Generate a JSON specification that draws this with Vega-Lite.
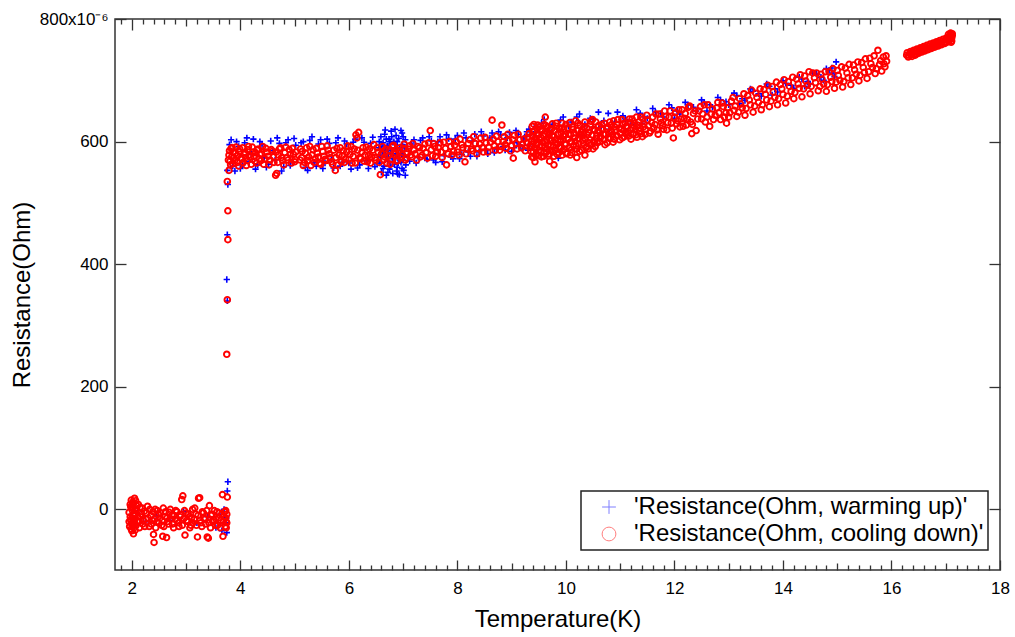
{
"$schema":"https://vega.github.io/schema/vega-lite/v6.json",
"width":885,"height":551,
"autosize":{"type":"none"},
"padding":{"left":115,"top":19,"right":15,"bottom":67},
"datasets":{
"warm":[
{"t":2.02,"r":-14},{"t":2.1,"r":-6},{"t":2.25,"r":-20},{"t":2.45,"r":-10},{"t":2.7,"r":-18},{"t":2.95,"r":-4},{"t":3.2,"r":-22},{"t":3.4,"r":-12},{"t":3.55,"r":-30},{"t":3.62,"r":-8},{"t":3.66,"r":-35},{"t":3.7,"r":0},{"t":3.72,"r":-22},{"t":3.74,"r":-14},{"t":3.75,"r":-38},
{"t":3.76,"r":30},{"t":3.77,"r":45},{"t":3.76,"r":340},{"t":3.75,"r":375},{"t":3.76,"r":448},{"t":3.77,"r":530},{"t":3.76,"r":553},
{"t":3.8,"r":595},{"t":3.86,"r":560},{"t":3.93,"r":600},{"t":4.0,"r":556},{"t":4.08,"r":598},{"t":4.16,"r":567},{"t":4.24,"r":604},{"t":4.32,"r":562},{"t":4.4,"r":595},{"t":4.48,"r":558},{"t":4.56,"r":601},{"t":4.64,"r":570},{"t":4.72,"r":597},{"t":4.8,"r":559},{"t":4.88,"r":603},{"t":4.96,"r":566},{"t":5.02,"r":594},{"t":4.2,"r":580},{"t":4.6,"r":585},{"t":4.44,"r":574},
{"t":3.83,"r":603},{"t":3.9,"r":552},{"t":3.97,"r":592},{"t":4.04,"r":562},{"t":4.12,"r":606},{"t":4.28,"r":555},{"t":4.36,"r":600},{"t":4.52,"r":563},{"t":4.68,"r":606},{"t":4.76,"r":552},{"t":4.84,"r":598},{"t":4.92,"r":561},{"t":4.99,"r":605},
{"t":5.12,"r":598},{"t":5.2,"r":558},{"t":5.28,"r":602},{"t":5.36,"r":566},{"t":5.44,"r":596},{"t":5.52,"r":556},{"t":5.6,"r":604},{"t":5.68,"r":571},{"t":5.76,"r":598},{"t":5.84,"r":560},{"t":5.92,"r":601},{"t":6.0,"r":565},{"t":6.08,"r":599},{"t":6.16,"r":557},{"t":6.24,"r":606},{"t":6.32,"r":569},{"t":6.4,"r":597},{"t":6.48,"r":559},
{"t":5.16,"r":600},{"t":5.24,"r":553},{"t":5.32,"r":608},{"t":5.4,"r":560},{"t":5.48,"r":603},{"t":5.56,"r":565},{"t":5.64,"r":597},{"t":5.72,"r":557},{"t":5.8,"r":606},{"t":5.88,"r":566},{"t":5.96,"r":596},{"t":6.04,"r":555},{"t":6.12,"r":604},{"t":6.2,"r":562},{"t":6.28,"r":599},{"t":6.36,"r":556},{"t":6.44,"r":607},{"t":6.52,"r":565},
{"t":6.55,"r":590},{"t":6.57,"r":565},{"t":6.59,"r":608},{"t":6.6,"r":550},{"t":6.62,"r":582},{"t":6.63,"r":598},{"t":6.65,"r":560},{"t":6.66,"r":612},{"t":6.68,"r":575},{"t":6.69,"r":545},{"t":6.71,"r":593},{"t":6.72,"r":568},{"t":6.74,"r":604},{"t":6.75,"r":555},{"t":6.77,"r":586},{"t":6.78,"r":617},{"t":6.8,"r":572},{"t":6.81,"r":548},{"t":6.83,"r":600},{"t":6.84,"r":563},{"t":6.86,"r":590},{"t":6.87,"r":610},{"t":6.89,"r":558},{"t":6.9,"r":578},{"t":6.92,"r":605},{"t":6.93,"r":546},{"t":6.95,"r":585},{"t":6.96,"r":566},{"t":6.98,"r":614},{"t":6.99,"r":595},{"t":7.01,"r":553},{"t":7.02,"r":575},{"t":7.04,"r":603},{"t":7.05,"r":562},{"t":7.06,"r":588},{"t":6.7,"r":590},{"t":6.82,"r":580},{"t":6.94,"r":570},{"t":6.64,"r":578},{"t":6.76,"r":600},{"t":6.88,"r":552},{"t":7.0,"r":608},
{"t":6.56,"r":600},{"t":6.58,"r":575},{"t":6.61,"r":592},{"t":6.63,"r":556},{"t":6.67,"r":586},{"t":6.69,"r":604},{"t":6.73,"r":580},{"t":6.75,"r":596},{"t":6.77,"r":560},{"t":6.79,"r":608},{"t":6.8,"r":585},{"t":6.85,"r":595},{"t":6.86,"r":574},{"t":6.89,"r":600},{"t":6.91,"r":565},{"t":6.93,"r":590},{"t":6.97,"r":580},{"t":6.98,"r":556},{"t":7.0,"r":570},{"t":7.03,"r":590},{"t":7.04,"r":545},{"t":6.67,"r":619},{"t":6.85,"r":620},{"t":6.96,"r":618},{"t":6.72,"r":550},{"t":6.9,"r":547},
{"t":7.12,"r":568},{"t":7.2,"r":603},{"t":7.28,"r":574},{"t":7.36,"r":606},{"t":7.44,"r":571},{"t":7.52,"r":601},{"t":7.6,"r":566},{"t":7.68,"r":608},{"t":7.76,"r":577},{"t":7.84,"r":605},{"t":7.92,"r":572},{"t":8.0,"r":610},{"t":8.08,"r":579},{"t":8.16,"r":606},{"t":8.24,"r":576},{"t":8.32,"r":612},{"t":8.4,"r":583},{"t":8.48,"r":609},{"t":8.56,"r":580},{"t":8.64,"r":614},{"t":8.72,"r":588},{"t":8.8,"r":611},{"t":8.88,"r":586},{"t":8.96,"r":615},{"t":9.04,"r":590},{"t":9.12,"r":612},{"t":9.2,"r":588},{"t":9.28,"r":616},{"t":9.33,"r":595},{"t":9.1,"r":598},{"t":9.22,"r":605},{"t":9.3,"r":586},
{"t":7.16,"r":596},{"t":7.24,"r":565},{"t":7.32,"r":602},{"t":7.4,"r":573},{"t":7.48,"r":608},{"t":7.56,"r":570},{"t":7.64,"r":600},{"t":7.72,"r":567},{"t":7.8,"r":611},{"t":7.88,"r":575},{"t":7.96,"r":604},{"t":8.04,"r":572},{"t":8.12,"r":614},{"t":8.2,"r":583},{"t":8.28,"r":601},{"t":8.36,"r":576},{"t":8.44,"r":616},{"t":8.52,"r":586},{"t":8.6,"r":606},{"t":8.68,"r":582},{"t":8.76,"r":616},{"t":8.84,"r":592},{"t":8.92,"r":606},{"t":9.0,"r":584},{"t":9.08,"r":618},{"t":9.16,"r":594},{"t":9.24,"r":608},{"t":9.32,"r":620},
{"t":9.4,"r":612},{"t":9.55,"r":630},{"t":9.7,"r":618},{"t":9.86,"r":573},{"t":9.9,"r":635},{"t":10.05,"r":625},{"t":10.2,"r":640},{"t":10.35,"r":628},{"t":10.5,"r":636},{"t":10.65,"r":625},{"t":10.78,"r":646},{"t":10.9,"r":632},{"t":11.05,"r":642},{"t":11.2,"r":628},{"t":11.37,"r":646},{"t":11.5,"r":638},{"t":11.65,"r":648},{"t":11.8,"r":640},{"t":11.95,"r":655},{"t":12.1,"r":645},{"t":12.25,"r":660},{"t":12.4,"r":650},{"t":12.55,"r":664},{"t":12.7,"r":656},{"t":12.85,"r":668},{"t":13.0,"r":660},{"t":13.15,"r":675},{"t":13.3,"r":667},{"t":13.45,"r":682},{"t":13.6,"r":674},{"t":13.75,"r":690},{"t":13.9,"r":681},{"t":14.05,"r":695},{"t":14.2,"r":687},{"t":14.35,"r":702},{"t":14.5,"r":694},{"t":14.62,"r":710},{"t":14.75,"r":700},{"t":14.85,"r":716},{"t":14.95,"r":706},{"t":14.98,"r":730},{"t":14.9,"r":720},{"t":14.4,"r":690},{"t":13.8,"r":676},{"t":13.2,"r":662},{"t":12.6,"r":650},{"t":12.0,"r":638},{"t":11.4,"r":630},{"t":10.8,"r":620},{"t":10.3,"r":612},
{"t":9.45,"r":625},{"t":9.6,"r":636},{"t":9.75,"r":628},{"t":9.95,"r":640},{"t":10.1,"r":632},{"t":10.25,"r":645},{"t":10.45,"r":638},{"t":10.6,"r":648},{"t":10.7,"r":634},{"t":10.95,"r":648},{"t":11.1,"r":636},{"t":11.3,"r":652},{"t":11.45,"r":640},{"t":11.6,"r":654},{"t":11.75,"r":646},{"t":11.9,"r":660},{"t":12.05,"r":650},{"t":12.2,"r":664},{"t":12.35,"r":656},{"t":12.5,"r":668},{"t":12.65,"r":660},{"t":12.8,"r":672},{"t":12.95,"r":665},{"t":13.1,"r":679},{"t":13.25,"r":670},{"t":13.4,"r":686},{"t":13.55,"r":678},{"t":13.7,"r":694},{"t":13.85,"r":686},{"t":14.0,"r":699},{"t":14.15,"r":692},{"t":14.3,"r":705},{"t":14.45,"r":698},{"t":14.55,"r":712},{"t":14.7,"r":705},{"t":14.8,"r":719},{"t":14.92,"r":712}
],
"cool":[
{"t":1.95,"r":-5},{"t":1.96,"r":-28},{"t":1.97,"r":8},{"t":1.98,"r":-18},{"t":1.99,"r":15},{"t":2.0,"r":-35},{"t":2.0,"r":2},{"t":2.01,"r":-22},{"t":2.02,"r":12},{"t":2.03,"r":-10},{"t":2.04,"r":-30},{"t":2.05,"r":18},{"t":2.06,"r":-15},{"t":2.07,"r":-2},{"t":2.08,"r":-26},{"t":2.09,"r":6},{"t":2.11,"r":-12},{"t":2.13,"r":-20},{"t":2.15,"r":3},{"t":2.18,"r":-8},{"t":2.2,"r":-24},{"t":2.23,"r":-3},{"t":2.26,"r":-16},{"t":2.29,"r":5},{"t":2.32,"r":-28},{"t":2.35,"r":-10},{"t":2.38,"r":-18},{"t":2.4,"r":-41},{"t":2.41,"r":-54},{"t":2.43,"r":0},{"t":2.46,"r":-20},{"t":2.49,"r":-8},{"t":2.52,"r":-14},{"t":2.55,"r":-26},{"t":2.57,"r":-44},{"t":2.58,"r":2},{"t":2.61,"r":-12},{"t":2.64,"r":-46},{"t":2.66,"r":-20},{"t":2.69,"r":-5},{"t":2.72,"r":-16},{"t":2.75,"r":-24},{"t":2.78,"r":-10},{"t":2.81,"r":-2},{"t":2.84,"r":-18},{"t":2.87,"r":-28},{"t":2.9,"r":-9},{"t":2.92,"r":16},{"t":2.94,"r":22},{"t":2.96,"r":-15},{"t":2.98,"r":-42},{"t":3.0,"r":-6},{"t":3.03,"r":-20},{"t":3.06,"r":-12},{"t":3.09,"r":-26},{"t":3.12,"r":0},{"t":3.15,"r":-16},{"t":3.18,"r":-8},{"t":3.21,"r":-45},{"t":3.23,"r":18},{"t":3.25,"r":19},{"t":3.27,"r":-22},{"t":3.3,"r":-4},{"t":3.33,"r":-14},{"t":3.36,"r":-24},{"t":3.39,"r":-45},{"t":3.41,"r":-47},{"t":3.43,"r":6},{"t":3.46,"r":-10},{"t":3.49,"r":-20},{"t":3.52,"r":-2},{"t":3.55,"r":-16},{"t":3.58,"r":-26},{"t":3.61,"r":-6},{"t":3.64,"r":-18},{"t":3.67,"r":24},{"t":3.68,"r":-44},{"t":3.7,"r":-12},{"t":3.72,"r":-28},{"t":3.73,"r":-2},{"t":3.74,"r":-20},{"t":3.75,"r":-8},
{"t":1.95,"r":-20},{"t":1.97,"r":-12},{"t":1.98,"r":4},{"t":1.99,"r":-32},{"t":2.01,"r":-2},{"t":2.02,"r":-26},{"t":2.03,"r":10},{"t":2.04,"r":-16},{"t":2.05,"r":-6},{"t":2.06,"r":-34},{"t":2.08,"r":0},{"t":2.1,"r":-20},{"t":2.12,"r":8},{"t":2.14,"r":-30},{"t":2.16,"r":-12},{"t":2.19,"r":2},{"t":2.21,"r":-18},{"t":2.24,"r":-28},{"t":2.27,"r":-6},{"t":2.3,"r":-14},{"t":2.33,"r":0},{"t":2.36,"r":-24},{"t":2.39,"r":-4},{"t":2.42,"r":-16},{"t":2.44,"r":-30},{"t":2.47,"r":-2},{"t":2.5,"r":-22},{"t":2.53,"r":-6},{"t":2.56,"r":-18},{"t":2.59,"r":-28},{"t":2.62,"r":-4},{"t":2.65,"r":-14},{"t":2.68,"r":-24},{"t":2.71,"r":0},{"t":2.74,"r":-10},{"t":2.77,"r":-30},{"t":2.8,"r":-16},{"t":2.83,"r":-4},{"t":2.86,"r":-22},{"t":2.89,"r":-12},{"t":2.93,"r":-26},{"t":2.97,"r":-2},{"t":3.01,"r":-18},{"t":3.04,"r":-8},{"t":3.07,"r":-30},{"t":3.1,"r":-14},{"t":3.13,"r":-22},{"t":3.16,"r":2},{"t":3.19,"r":-26},{"t":3.22,"r":-10},{"t":3.26,"r":-18},{"t":3.29,"r":-28},{"t":3.32,"r":-6},{"t":3.35,"r":-16},{"t":3.38,"r":-2},{"t":3.42,"r":-22},{"t":3.45,"r":-30},{"t":3.48,"r":-8},{"t":3.51,"r":-18},{"t":3.54,"r":-26},{"t":3.57,"r":-4},{"t":3.6,"r":-14},{"t":3.63,"r":-30},{"t":3.66,"r":-8},{"t":3.69,"r":-20},{"t":3.71,"r":-4},{"t":3.73,"r":-14},{"t":3.74,"r":-30},{"t":3.75,"r":-22},{"t":2.0,"r":-14},{"t":2.0,"r":-25},{"t":2.01,"r":8},{"t":2.03,"r":-40},{"t":2.05,"r":-20},{"t":2.07,"r":14},
{"t":3.76,"r":20},{"t":3.75,"r":253},{"t":3.76,"r":342},{"t":3.77,"r":440},{"t":3.77,"r":487},{"t":3.76,"r":535},
{"t":3.78,"r":570},{"t":3.79,"r":553},{"t":3.8,"r":585},{"t":3.82,"r":562},{"t":3.85,"r":590},{"t":3.88,"r":574},{"t":3.91,"r":581},{"t":3.95,"r":566},{"t":3.99,"r":588},{"t":4.03,"r":571},{"t":4.07,"r":579},{"t":4.11,"r":561},{"t":4.15,"r":592},{"t":4.19,"r":575},{"t":4.23,"r":583},{"t":4.27,"r":568},{"t":4.31,"r":586},{"t":4.35,"r":572},{"t":4.39,"r":580},{"t":4.43,"r":563},{"t":4.47,"r":589},{"t":4.51,"r":576},{"t":4.55,"r":570},{"t":4.59,"r":584},{"t":4.62,"r":566},{"t":4.65,"r":545},{"t":4.67,"r":548},{"t":4.7,"r":578},{"t":4.74,"r":590},{"t":4.78,"r":569},{"t":4.82,"r":582},{"t":4.86,"r":574},{"t":4.9,"r":587},{"t":4.94,"r":565},{"t":4.98,"r":579},{"t":5.01,"r":571},
{"t":3.79,"r":578},{"t":3.81,"r":568},{"t":3.83,"r":589},{"t":3.84,"r":575},{"t":3.86,"r":564},{"t":3.87,"r":583},{"t":3.9,"r":570},{"t":3.92,"r":591},{"t":3.94,"r":577},{"t":3.97,"r":560},{"t":3.98,"r":584},{"t":4.01,"r":573},{"t":4.04,"r":590},{"t":4.05,"r":566},{"t":4.09,"r":582},{"t":4.1,"r":574},{"t":4.13,"r":569},{"t":4.14,"r":587},{"t":4.17,"r":578},{"t":4.2,"r":563},{"t":4.22,"r":591},{"t":4.25,"r":576},{"t":4.28,"r":582},{"t":4.3,"r":565},{"t":4.33,"r":588},{"t":4.36,"r":579},{"t":4.38,"r":569},{"t":4.41,"r":592},{"t":4.45,"r":572},{"t":4.49,"r":583},{"t":4.53,"r":562},{"t":4.57,"r":587},{"t":4.61,"r":575},{"t":4.66,"r":583},{"t":4.69,"r":566},{"t":4.72,"r":588},{"t":4.76,"r":574},{"t":4.8,"r":562},{"t":4.84,"r":591},{"t":4.88,"r":570},{"t":4.92,"r":579},{"t":4.96,"r":589},{"t":5.0,"r":567},{"t":5.02,"r":583},
{"t":5.1,"r":570},{"t":5.14,"r":584},{"t":5.18,"r":566},{"t":5.22,"r":590},{"t":5.26,"r":575},{"t":5.3,"r":561},{"t":5.34,"r":587},{"t":5.38,"r":572},{"t":5.42,"r":581},{"t":5.46,"r":565},{"t":5.5,"r":592},{"t":5.54,"r":576},{"t":5.58,"r":569},{"t":5.62,"r":586},{"t":5.66,"r":574},{"t":5.7,"r":563},{"t":5.75,"r":553},{"t":5.78,"r":589},{"t":5.82,"r":578},{"t":5.86,"r":567},{"t":5.9,"r":585},{"t":5.94,"r":572},{"t":5.98,"r":593},{"t":6.02,"r":579},{"t":6.06,"r":565},{"t":6.1,"r":588},{"t":6.13,"r":611},{"t":6.15,"r":606},{"t":6.18,"r":615},{"t":6.2,"r":574},{"t":6.24,"r":583},{"t":6.28,"r":568},{"t":6.32,"r":591},{"t":6.36,"r":577},{"t":6.4,"r":565},{"t":6.44,"r":586},{"t":6.48,"r":574},{"t":6.52,"r":590},{"t":6.56,"r":566},{"t":6.58,"r":546},{"t":6.6,"r":580},{"t":6.64,"r":570},{"t":6.68,"r":588},{"t":6.72,"r":576},{"t":6.76,"r":563},{"t":6.8,"r":592},{"t":6.84,"r":579},{"t":6.88,"r":568},{"t":6.92,"r":585},{"t":6.96,"r":574},{"t":7.0,"r":589},{"t":7.04,"r":570},{"t":7.08,"r":582},{"t":7.12,"r":593},{"t":7.16,"r":575},{"t":7.2,"r":586},{"t":7.25,"r":570},{"t":7.3,"r":590},{"t":7.35,"r":578},{"t":7.4,"r":596},{"t":7.45,"r":573},{"t":7.5,"r":618},{"t":7.52,"r":587},{"t":7.56,"r":597},{"t":7.6,"r":576},{"t":7.65,"r":590},{"t":7.7,"r":583},{"t":7.75,"r":599},{"t":7.8,"r":562},{"t":7.83,"r":580},{"t":7.88,"r":592},{"t":7.93,"r":584},{"t":7.98,"r":600},{"t":8.03,"r":578},{"t":8.08,"r":595},{"t":8.14,"r":567},{"t":8.18,"r":588},{"t":8.23,"r":603},{"t":8.28,"r":585},{"t":8.33,"r":597},{"t":8.38,"r":589},{"t":8.43,"r":606},{"t":8.48,"r":583},{"t":8.53,"r":598},{"t":8.58,"r":591},{"t":8.64,"r":635},{"t":8.66,"r":604},{"t":8.7,"r":586},{"t":8.75,"r":600},{"t":8.8,"r":592},{"t":8.82,"r":627},{"t":8.86,"r":608},{"t":8.9,"r":589},{"t":8.95,"r":601},{"t":9.0,"r":594},{"t":9.03,"r":573},{"t":9.05,"r":610},{"t":9.1,"r":588},{"t":9.15,"r":603},{"t":9.2,"r":596},{"t":9.25,"r":585},{"t":9.3,"r":607},{"t":9.34,"r":593},
{"t":5.11,"r":588},{"t":5.13,"r":574},{"t":5.16,"r":561},{"t":5.2,"r":581},{"t":5.24,"r":569},{"t":5.28,"r":592},{"t":5.32,"r":578},{"t":5.36,"r":566},{"t":5.4,"r":589},{"t":5.44,"r":575},{"t":5.48,"r":563},{"t":5.52,"r":584},{"t":5.56,"r":571},{"t":5.6,"r":593},{"t":5.64,"r":580},{"t":5.68,"r":567},{"t":5.72,"r":586},{"t":5.76,"r":574},{"t":5.8,"r":562},{"t":5.84,"r":590},{"t":5.88,"r":577},{"t":5.92,"r":566},{"t":5.96,"r":583},{"t":6.0,"r":571},{"t":6.04,"r":592},{"t":6.08,"r":576},{"t":6.12,"r":565},{"t":6.16,"r":586},{"t":6.22,"r":572},{"t":6.26,"r":590},{"t":6.3,"r":578},{"t":6.34,"r":567},{"t":6.38,"r":588},{"t":6.42,"r":575},{"t":6.46,"r":595},{"t":6.5,"r":570},{"t":6.54,"r":583},{"t":6.62,"r":592},{"t":6.66,"r":575},{"t":6.7,"r":565},{"t":6.74,"r":586},{"t":6.78,"r":571},{"t":6.82,"r":594},{"t":6.86,"r":582},{"t":6.9,"r":569},{"t":6.94,"r":590},{"t":6.98,"r":578},{"t":7.02,"r":596},{"t":7.06,"r":573},{"t":7.1,"r":588},{"t":7.14,"r":578},{"t":7.18,"r":597},{"t":7.22,"r":580},{"t":7.27,"r":592},{"t":7.32,"r":575},{"t":7.37,"r":589},{"t":7.42,"r":582},{"t":7.47,"r":598},{"t":7.54,"r":577},{"t":7.58,"r":592},{"t":7.63,"r":583},{"t":7.68,"r":598},{"t":7.72,"r":574},{"t":7.78,"r":589},{"t":7.85,"r":600},{"t":7.9,"r":578},{"t":7.95,"r":594},{"t":8.0,"r":583},{"t":8.05,"r":604},{"t":8.1,"r":590},{"t":8.16,"r":580},{"t":8.2,"r":597},{"t":8.26,"r":588},{"t":8.3,"r":608},{"t":8.36,"r":580},{"t":8.41,"r":596},{"t":8.46,"r":590},{"t":8.51,"r":607},{"t":8.56,"r":583},{"t":8.61,"r":599},{"t":8.68,"r":593},{"t":8.72,"r":609},{"t":8.78,"r":586},{"t":8.84,"r":600},{"t":8.88,"r":595},{"t":8.93,"r":612},{"t":8.98,"r":585},{"t":9.02,"r":603},{"t":9.08,"r":597},{"t":9.12,"r":612},{"t":9.18,"r":590},{"t":9.23,"r":604},{"t":9.28,"r":598},{"t":9.32,"r":613},
{"t":9.37,"r":575},{"t":9.37,"r":592},{"t":9.38,"r":610},{"t":9.38,"r":625},{"t":9.4,"r":583},{"t":9.41,"r":600},{"t":9.42,"r":618},{"t":9.44,"r":578},{"t":9.45,"r":595},{"t":9.46,"r":612},{"t":9.48,"r":627},{"t":9.5,"r":586},{"t":9.51,"r":604},{"t":9.53,"r":620},{"t":9.55,"r":575},{"t":9.56,"r":593},{"t":9.58,"r":610},{"t":9.6,"r":582},{"t":9.61,"r":600},{"t":9.63,"r":626},{"t":9.65,"r":588},{"t":9.66,"r":615},{"t":9.68,"r":577},{"t":9.7,"r":605},{"t":9.72,"r":594},{"t":9.74,"r":621},{"t":9.76,"r":583},{"t":9.78,"r":608},{"t":9.8,"r":598},{"t":9.82,"r":630},{"t":9.84,"r":579},{"t":9.86,"r":613},{"t":9.88,"r":590},{"t":9.9,"r":603},{"t":9.92,"r":622},{"t":9.94,"r":585},{"t":9.96,"r":609},{"t":9.98,"r":596},{"t":10.0,"r":628},{"t":10.02,"r":581},{"t":10.05,"r":612},{"t":10.08,"r":599},{"t":10.1,"r":587},{"t":10.13,"r":620},{"t":10.16,"r":606},{"t":10.19,"r":593},{"t":10.22,"r":630},{"t":10.25,"r":584},{"t":10.28,"r":615},{"t":10.31,"r":602},{"t":10.34,"r":624},{"t":10.37,"r":590},{"t":10.4,"r":611},{"t":10.43,"r":598},{"t":10.46,"r":633},{"t":10.5,"r":588},{"t":10.53,"r":618},{"t":10.56,"r":605},{"t":10.6,"r":626},{"t":9.43,"r":567},{"t":9.62,"r":640},{"t":9.7,"r":568},{"t":9.78,"r":562},{"t":10.08,"r":578},{"t":10.35,"r":578},{"t":10.2,"r":574},
{"t":9.36,"r":601},{"t":9.36,"r":584},{"t":9.39,"r":616},{"t":9.39,"r":596},{"t":9.4,"r":574},{"t":9.41,"r":628},{"t":9.43,"r":589},{"t":9.44,"r":606},{"t":9.46,"r":580},{"t":9.47,"r":621},{"t":9.47,"r":598},{"t":9.49,"r":610},{"t":9.5,"r":577},{"t":9.51,"r":624},{"t":9.52,"r":591},{"t":9.54,"r":607},{"t":9.54,"r":584},{"t":9.56,"r":618},{"t":9.57,"r":599},{"t":9.59,"r":576},{"t":9.6,"r":628},{"t":9.61,"r":590},{"t":9.62,"r":612},{"t":9.64,"r":583},{"t":9.64,"r":603},{"t":9.66,"r":624},{"t":9.67,"r":594},{"t":9.69,"r":612},{"t":9.69,"r":580},{"t":9.71,"r":619},{"t":9.72,"r":601},{"t":9.73,"r":585},{"t":9.75,"r":629},{"t":9.75,"r":609},{"t":9.77,"r":592},{"t":9.78,"r":576},{"t":9.79,"r":618},{"t":9.8,"r":586},{"t":9.81,"r":603},{"t":9.83,"r":625},{"t":9.84,"r":596},{"t":9.85,"r":612},{"t":9.87,"r":582},{"t":9.88,"r":621},{"t":9.89,"r":600},{"t":9.91,"r":590},{"t":9.91,"r":614},{"t":9.93,"r":578},{"t":9.93,"r":630},{"t":9.95,"r":603},{"t":9.96,"r":620},{"t":9.97,"r":588},{"t":9.99,"r":612},{"t":10.0,"r":596},{"t":10.01,"r":580},{"t":10.03,"r":622},{"t":10.04,"r":604},{"t":10.06,"r":590},{"t":10.07,"r":631},{"t":10.09,"r":611},{"t":10.1,"r":600},{"t":10.11,"r":582},{"t":10.12,"r":624},{"t":10.14,"r":593},{"t":10.15,"r":614},{"t":10.17,"r":600},{"t":10.18,"r":634},{"t":10.2,"r":588},{"t":10.21,"r":618},{"t":10.23,"r":605},{"t":10.24,"r":596},{"t":10.26,"r":626},{"t":10.27,"r":610},{"t":10.29,"r":586},{"t":10.3,"r":620},{"t":10.32,"r":597},{"t":10.33,"r":612},{"t":10.35,"r":632},{"t":10.36,"r":604},{"t":10.38,"r":592},{"t":10.39,"r":622},{"t":10.41,"r":588},{"t":10.42,"r":615},{"t":10.44,"r":603},{"t":10.45,"r":628},{"t":10.47,"r":595},{"t":10.48,"r":611},{"t":10.49,"r":636},{"t":10.51,"r":600},{"t":10.52,"r":620},{"t":10.54,"r":592},{"t":10.55,"r":632},{"t":10.57,"r":610},{"t":10.58,"r":598},{"t":10.59,"r":618},
{"t":10.63,"r":600},{"t":10.66,"r":628},{"t":10.69,"r":612},{"t":10.72,"r":595},{"t":10.75,"r":621},{"t":10.78,"r":606},{"t":10.81,"r":632},{"t":10.84,"r":616},{"t":10.87,"r":599},{"t":10.9,"r":624},{"t":10.93,"r":610},{"t":10.96,"r":636},{"t":10.99,"r":603},{"t":11.02,"r":620},{"t":11.05,"r":629},{"t":11.08,"r":608},{"t":11.11,"r":625},{"t":11.14,"r":614},{"t":11.17,"r":637},{"t":11.2,"r":604},{"t":11.23,"r":622},{"t":11.26,"r":630},{"t":11.29,"r":611},{"t":11.32,"r":627},{"t":11.35,"r":617},{"t":11.38,"r":640},{"t":11.41,"r":608},{"t":11.44,"r":629},{"t":11.47,"r":620},{"t":11.5,"r":635},{"t":11.54,"r":614},{"t":11.58,"r":631},{"t":11.62,"r":622},{"t":11.66,"r":645},{"t":11.7,"r":612},{"t":11.74,"r":637},{"t":11.78,"r":626},{"t":11.82,"r":650},{"t":11.86,"r":619},{"t":11.9,"r":640},{"t":11.94,"r":630},{"t":11.98,"r":606},{"t":12.02,"r":647},{"t":12.06,"r":634},{"t":12.1,"r":624},{"t":12.14,"r":652},{"t":12.18,"r":638},{"t":12.22,"r":627},{"t":12.26,"r":656},{"t":12.3,"r":632},{"t":12.32,"r":613},{"t":12.35,"r":646},{"t":12.4,"r":618},{"t":12.45,"r":650},{"t":12.5,"r":637},{"t":12.55,"r":660},{"t":12.6,"r":640},{"t":12.65,"r":625},{"t":12.7,"r":653},{"t":12.75,"r":643},{"t":12.8,"r":664},{"t":12.85,"r":636},{"t":12.9,"r":657},{"t":12.95,"r":647},{"t":12.96,"r":630},{"t":13.0,"r":640},{"t":13.05,"r":666},{"t":13.1,"r":651},{"t":13.15,"r":641},{"t":13.2,"r":670},{"t":13.25,"r":655},{"t":13.3,"r":643},{"t":13.35,"r":675},{"t":13.4,"r":660},{"t":13.45,"r":648},{"t":13.5,"r":679},{"t":13.55,"r":664},{"t":13.6,"r":652},{"t":13.65,"r":685},{"t":13.7,"r":668},{"t":13.75,"r":657},{"t":13.8,"r":690},{"t":13.85,"r":672},{"t":13.9,"r":660},{"t":13.95,"r":693},{"t":14.0,"r":677},{"t":14.05,"r":663},{"t":14.1,"r":698},{"t":14.15,"r":682},{"t":14.2,"r":670},{"t":14.25,"r":702},{"t":14.3,"r":687},{"t":14.35,"r":673},{"t":14.4,"r":707},{"t":14.45,"r":692},{"t":14.5,"r":678},{"t":14.55,"r":712},{"t":14.6,"r":696},{"t":14.65,"r":683},{"t":14.7,"r":710},{"t":14.75,"r":694},{"t":14.8,"r":682},{"t":14.85,"r":714},{"t":14.9,"r":698},{"t":14.95,"r":687},{"t":15.0,"r":716},{"t":15.05,"r":700},{"t":15.1,"r":689},{"t":15.15,"r":720},{"t":15.2,"r":704},{"t":15.25,"r":693},{"t":15.3,"r":725},{"t":15.35,"r":710},{"t":15.4,"r":699},{"t":15.45,"r":729},{"t":15.5,"r":713},{"t":15.55,"r":703},{"t":15.6,"r":736},{"t":15.65,"r":721},{"t":15.7,"r":711},{"t":15.75,"r":749},{"t":15.78,"r":726},{"t":15.82,"r":715},{"t":15.85,"r":738},{"t":15.88,"r":722},{"t":15.91,"r":731},
{"t":10.62,"r":615},{"t":10.64,"r":607},{"t":10.67,"r":620},{"t":10.7,"r":603},{"t":10.71,"r":630},{"t":10.73,"r":612},{"t":10.76,"r":598},{"t":10.77,"r":624},{"t":10.8,"r":614},{"t":10.82,"r":605},{"t":10.83,"r":627},{"t":10.86,"r":611},{"t":10.88,"r":634},{"t":10.89,"r":604},{"t":10.92,"r":619},{"t":10.94,"r":628},{"t":10.95,"r":609},{"t":10.98,"r":622},{"t":11.0,"r":614},{"t":11.03,"r":636},{"t":11.04,"r":606},{"t":11.07,"r":618},{"t":11.09,"r":630},{"t":11.1,"r":613},{"t":11.13,"r":625},{"t":11.16,"r":609},{"t":11.18,"r":631},{"t":11.19,"r":619},{"t":11.22,"r":637},{"t":11.24,"r":612},{"t":11.25,"r":626},{"t":11.28,"r":620},{"t":11.3,"r":640},{"t":11.31,"r":607},{"t":11.34,"r":632},{"t":11.36,"r":622},{"t":11.39,"r":613},{"t":11.42,"r":637},{"t":11.43,"r":624},{"t":11.46,"r":612},{"t":11.49,"r":643},{"t":11.52,"r":626},{"t":11.56,"r":617},{"t":11.6,"r":640},{"t":11.64,"r":628},{"t":11.68,"r":619},{"t":11.72,"r":645},{"t":11.76,"r":631},{"t":11.8,"r":620},{"t":11.84,"r":641},{"t":11.88,"r":631},{"t":11.92,"r":650},{"t":11.96,"r":622},{"t":12.0,"r":640},{"t":12.04,"r":629},{"t":12.08,"r":652},{"t":12.12,"r":637},{"t":12.16,"r":625},{"t":12.2,"r":646},{"t":12.24,"r":636},{"t":12.28,"r":658},{"t":12.33,"r":628},{"t":12.38,"r":650},{"t":12.43,"r":637},{"t":12.48,"r":657},{"t":12.52,"r":645},{"t":12.57,"r":632},{"t":12.62,"r":660},{"t":12.68,"r":645},{"t":12.72,"r":636},{"t":12.78,"r":655},{"t":12.82,"r":647},{"t":12.88,"r":663},{"t":12.92,"r":640},{"t":12.98,"r":655},{"t":13.02,"r":647},{"t":13.08,"r":672},{"t":13.12,"r":658},{"t":13.18,"r":648},{"t":13.22,"r":661},{"t":13.28,"r":678},{"t":13.32,"r":654},{"t":13.38,"r":668},{"t":13.42,"r":684},{"t":13.48,"r":658},{"t":13.52,"r":672},{"t":13.58,"r":686},{"t":13.62,"r":660},{"t":13.68,"r":677},{"t":13.72,"r":692},{"t":13.78,"r":666},{"t":13.82,"r":681},{"t":13.88,"r":697},{"t":13.92,"r":670},{"t":13.98,"r":686},{"t":14.02,"r":701},{"t":14.08,"r":674},{"t":14.12,"r":690},{"t":14.18,"r":705},{"t":14.22,"r":680},{"t":14.28,"r":694},{"t":14.32,"r":709},{"t":14.38,"r":686},{"t":14.42,"r":699},{"t":14.48,"r":714},{"t":14.52,"r":690},{"t":14.58,"r":704},{"t":14.62,"r":712},{"t":14.68,"r":690},{"t":14.72,"r":702},{"t":14.78,"r":714},{"t":14.82,"r":693},{"t":14.88,"r":705},{"t":14.92,"r":719},{"t":14.98,"r":697},{"t":15.02,"r":708},{"t":15.08,"r":722},{"t":15.12,"r":698},{"t":15.18,"r":712},{"t":15.22,"r":726},{"t":15.28,"r":704},{"t":15.32,"r":717},{"t":15.38,"r":730},{"t":15.42,"r":708},{"t":15.48,"r":721},{"t":15.52,"r":735},{"t":15.58,"r":714},{"t":15.62,"r":727},{"t":15.68,"r":740},{"t":15.72,"r":719},{"t":15.8,"r":732},{"t":15.86,"r":727},{"t":15.9,"r":740},
{"t":16.28,"r":741},{"t":16.31,"r":738},{"t":16.34,"r":744},{"t":16.37,"r":742},{"t":16.4,"r":746},{"t":16.43,"r":743},{"t":16.46,"r":748},{"t":16.49,"r":745},{"t":16.52,"r":750},{"t":16.55,"r":747},{"t":16.58,"r":752},{"t":16.61,"r":749},{"t":16.64,"r":754},{"t":16.67,"r":751},{"t":16.7,"r":756},{"t":16.73,"r":753},{"t":16.76,"r":758},{"t":16.79,"r":755},{"t":16.82,"r":760},{"t":16.85,"r":757},{"t":16.88,"r":762},{"t":16.91,"r":759},{"t":16.94,"r":764},{"t":16.97,"r":761},{"t":17.0,"r":766},{"t":17.02,"r":762},{"t":17.04,"r":770},{"t":17.06,"r":765},{"t":17.08,"r":772},{"t":17.09,"r":767},{"t":17.1,"r":775},{"t":17.1,"r":762},{"t":17.11,"r":769},{"t":17.12,"r":773},
{"t":16.29,"r":745},{"t":16.32,"r":741},{"t":16.35,"r":747},{"t":16.38,"r":739},{"t":16.41,"r":749},{"t":16.44,"r":741},{"t":16.47,"r":751},{"t":16.5,"r":744},{"t":16.53,"r":753},{"t":16.56,"r":746},{"t":16.59,"r":755},{"t":16.62,"r":748},{"t":16.65,"r":757},{"t":16.68,"r":750},{"t":16.71,"r":759},{"t":16.74,"r":752},{"t":16.77,"r":761},{"t":16.8,"r":754},{"t":16.83,"r":763},{"t":16.86,"r":756},{"t":16.89,"r":765},{"t":16.92,"r":758},{"t":16.95,"r":767},{"t":16.98,"r":760},{"t":17.01,"r":769},{"t":17.03,"r":765},{"t":17.05,"r":775},{"t":17.07,"r":769},{"t":17.09,"r":777},{"t":17.11,"r":764},{"t":17.12,"r":776}
]
},
"layer":[
{"data":{"name":"warm"},
 "mark":{"type":"point","filled":false,"opacity":1,"strokeWidth":1.6,"size":40},
 "encoding":{
  "x":{"field":"t","type":"quantitative","scale":{"domain":[1.69,18.0],"nice":false,"zero":false},
       "axis":{"orient":"bottom","values":[2,4,6,8,10,12,14,16,18],"tickSize":-10,"labelPadding":20,"labelFlush":false,"title":"Temperature(K)","titlePadding":11}},
  "y":{"field":"r","type":"quantitative","scale":{"domain":[-99,800],"nice":false,"zero":false},
       "axis":{"orient":"left","values":[0,200,400,600,800],"tickSize":-11,"labelPadding":18,"labelExpr":"datum.value == 800 ? '800x10⁻⁶' : datum.label","title":"Resistance(Ohm)","titlePadding":5}},
  "color":{"datum":"w","scale":{"domain":["w","c"],"range":["#0000ff","#ff0000"]},
           "legend":{"title":null,"orient":"none","legendX":466,"legendY":472,"labelExpr":"datum.label == 'w' ? \"'Resistance(Ohm, warming up)'\" : \"'Resistance(Ohm, cooling down)'\""}},
  "shape":{"datum":"w","scale":{"domain":["w","c"],"range":["M-1,0H1M0,-1V1","circle"]},
           "legend":{"title":null,"orient":"none","legendX":466,"legendY":472,"labelExpr":"datum.label == 'w' ? \"'Resistance(Ohm, warming up)'\" : \"'Resistance(Ohm, cooling down)'\""}}
 }},
{"data":{"name":"cool"},
 "mark":{"type":"point","filled":false,"opacity":1,"strokeWidth":1.9,"size":32},
 "encoding":{
  "x":{"field":"t","type":"quantitative",
       "axis":{"orient":"bottom","values":[1.8,2.2,2.4,2.6,2.8,3.2,3.4,3.6,3.8,4.2,4.4,4.6,4.8,5.2,5.4,5.6,5.8,6.2,6.4,6.6,6.8,7.2,7.4,7.6,7.8,8.2,8.4,8.6,8.8,9.2,9.4,9.6,9.8,10.2,10.4,10.6,10.8,11.2,11.4,11.6,11.8,12.2,12.4,12.6,12.8,13.2,13.4,13.6,13.8,14.2,14.4,14.6,14.8,15.2,15.4,15.6,15.8,16.2,16.4,16.6,16.8,17.2,17.4,17.6,17.8],"tickSize":-5,"labels":false,"title":null}},
  "y":{"field":"r","type":"quantitative",
       "axis":{"orient":"right","values":[0,200,400,600,800],"tickSize":-11,"labels":false,"title":null}},
  "color":{"datum":"c"},
  "shape":{"datum":"c"}
 }},
{"data":{"name":"cool"},"transform":[{"filter":"datum.t > 17.1"}],
 "mark":{"type":"point","opacity":0},
 "encoding":{
  "x":{"field":"t","type":"quantitative","axis":{"orient":"top","values":[2,4,6,8,10,12,14,16,18],"tickSize":-11,"labels":false,"title":null}},
  "y":{"field":"r","type":"quantitative","axis":null}
 }},
{"data":{"name":"cool"},"transform":[{"filter":"datum.t > 17.1"}],
 "mark":{"type":"point","opacity":0},
 "encoding":{
  "x":{"field":"t","type":"quantitative","axis":{"orient":"top","values":[1.8,2.2,2.4,2.6,2.8,3.2,3.4,3.6,3.8,4.2,4.4,4.6,4.8,5.2,5.4,5.6,5.8,6.2,6.4,6.6,6.8,7.2,7.4,7.6,7.8,8.2,8.4,8.6,8.8,9.2,9.4,9.6,9.8,10.2,10.4,10.6,10.8,11.2,11.4,11.6,11.8,12.2,12.4,12.6,12.8,13.2,13.4,13.6,13.8,14.2,14.4,14.6,14.8,15.2,15.4,15.6,15.8,16.2,16.4,16.6,16.8,17.2,17.4,17.6,17.8],"tickSize":-5,"labels":false,"title":null}},
  "y":{"field":"r","type":"quantitative","axis":null}
 }},
{"data":{"name":"cool"},"transform":[{"filter":"datum.t > 17.1"}],
 "mark":{"type":"point","opacity":0},
 "encoding":{
  "x":{"field":"t","type":"quantitative","axis":{"orient":"bottom","values":[3,5,7,9,11,13,15,17],"tickSize":-7,"labels":false,"title":null}},
  "y":{"field":"r","type":"quantitative","axis":null}
 }},
{"data":{"name":"cool"},"transform":[{"filter":"datum.t > 17.1"}],
 "mark":{"type":"point","opacity":0},
 "encoding":{
  "x":{"field":"t","type":"quantitative","axis":{"orient":"top","values":[3,5,7,9,11,13,15,17],"tickSize":-7,"labels":false,"title":null}},
  "y":{"field":"r","type":"quantitative","axis":null}
 }}
],
"resolve":{"axis":{"x":"independent","y":"independent"}},
"config":{
 "font":"Liberation Sans",
 "background":"#ffffff",
 "view":{"stroke":"#333333","strokeWidth":1.5},
 "axis":{"domain":false,"grid":false,"tickColor":"#333333","tickWidth":1.3,"labelFont":"Liberation Sans","labelFontSize":17,"labelColor":"#000000","titleFont":"Liberation Sans","titleFontSize":24,"titleFontWeight":"normal","titleColor":"#000000"},
 "legend":{"fillColor":"#ffffff","strokeColor":"#222222","strokeWidth":1.5,"padding":4,"labelFont":"Liberation Sans","labelFontSize":24,"labelColor":"#000000","labelLimit":700,"symbolSize":190,"symbolStrokeWidth":1,"symbolOpacity":0.5,"rowPadding":3,"symbolOffset":12,"labelOffset":13}
}
}
